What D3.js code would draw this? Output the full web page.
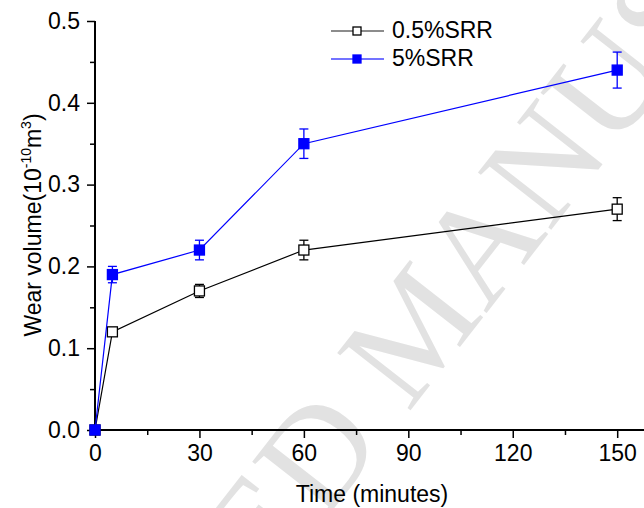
<!DOCTYPE html>
<html>
<head>
<script src="https://d3js.org/d3.v7.min.js"></script>
<style>
  body { margin: 0; background: #fff; }
</style>
</head>
<body>
<div id="chart"></div>
<script>
// data
var times = [0, 5, 30, 60, 150];
var low = [0, 0.12, 0.17, 0.22, 0.27];       // 0.5%SRR
var lowErr = [0, 0.004, 0.008, 0.012, 0.014];
var high = [0, 0.19, 0.22, 0.35, 0.44];      // 5%SRR
var highErr = [0, 0.01, 0.012, 0.018, 0.022];
var seriesNames = ["0.5%SRR", "5%SRR"];
var xTicks = [0, 30, 60, 90, 120, 150];
var yTicks = [0.0, 0.1, 0.2, 0.3, 0.4, 0.5];

var W = 644, H = 508;
var margin = { top: 21, right: 0, bottom: 78, left: 95 };
var fs = 23;
var sans = "Liberation Sans, Arial, sans-serif";

var svg = d3.select("#chart").append("svg")
    .attr("width", W).attr("height", H)
    .style("font-family", sans);

// faint watermark behind everything
svg.append("text")
    .attr("transform", "translate(416,327) rotate(-52)")
    .attr("text-anchor", "middle")
    .attr("dy", "0.33em")
    .style("font-family", "Liberation Serif, Times New Roman, serif")
    .attr("font-size", 142)
    .attr("fill", "#e2e2e2")
    .text("ACCEPTED MANUSCRIPT");

var x = d3.scaleLinear().domain([0, 157.7]).range([margin.left, W - margin.right]);
var y = d3.scaleLinear().domain([0, 0.5]).range([430, margin.top]);

// axes
var xAxis = d3.axisBottom(x).tickValues(xTicks).tickSize(8).tickPadding(7).tickFormat(d3.format("d"));
var gx = svg.append("g").attr("transform", "translate(0,430)").call(xAxis);
gx.select(".domain").attr("d", "M" + x(0) + ",0H" + W).attr("stroke-width", 2);
svg.append("g").attr("transform", "translate(0,430)")
    .call(d3.axisBottom(x).tickValues([15, 45, 75, 105, 135]).tickSize(5).tickFormat(""))
    .select(".domain").remove();

var yAxis = d3.axisLeft(y).tickValues(yTicks).tickSize(8).tickPadding(7).tickFormat(d3.format(".1f"));
var gy = svg.append("g").attr("transform", "translate(" + x(0) + ",0)").call(yAxis);
gy.select(".domain").attr("d", "M0," + y(0.5) + "V" + y(0)).attr("stroke-width", 2);
svg.append("g").attr("transform", "translate(" + x(0) + ",0)")
    .call(d3.axisLeft(y).tickValues([0.05, 0.15, 0.25, 0.35, 0.45]).tickSize(5).tickFormat(""))
    .select(".domain").remove();

svg.selectAll(".tick line").attr("stroke-width", 1.5);
svg.selectAll(".tick text").attr("font-size", fs).attr("fill", "#000")
    .attr("font-family", sans);

// axis titles
svg.append("text")
    .attr("x", 372).attr("y", 502)
    .attr("text-anchor", "middle").attr("font-size", fs)
    .text("Time (minutes)");

var yl = svg.append("text")
    .attr("transform", "translate(41,225) rotate(-90)")
    .attr("text-anchor", "middle").attr("font-size", fs);
yl.append("tspan").text("Wear volume(10");
yl.append("tspan").attr("font-size", 14).attr("dy", -10).text("-10");
yl.append("tspan").attr("dy", 10).text("m");
yl.append("tspan").attr("font-size", 14).attr("dy", -10).text("3");
yl.append("tspan").attr("dy", 10).text(")");

function drawSeries(vals, errs, color, fill) {
    var pts = times.map(function (t, i) { return { t: t, v: vals[i], e: errs[i] }; });
    var line = d3.line().x(function (d) { return x(d.t); }).y(function (d) { return y(d.v); });
    svg.append("path").datum(pts)
        .attr("d", line).attr("fill", "none").attr("stroke", color).attr("stroke-width", 1.2);
    var eb = svg.append("g").attr("stroke", color).attr("stroke-width", 1.3);
    pts.filter(function (d) { return d.e > 0; }).forEach(function (d) {
        var cx = x(d.t);
        eb.append("line").attr("x1", cx).attr("x2", cx).attr("y1", y(d.v + d.e)).attr("y2", y(d.v - d.e));
        eb.append("line").attr("x1", cx - 4.5).attr("x2", cx + 4.5).attr("y1", y(d.v + d.e)).attr("y2", y(d.v + d.e));
        eb.append("line").attr("x1", cx - 4.5).attr("x2", cx + 4.5).attr("y1", y(d.v - d.e)).attr("y2", y(d.v - d.e));
    });
    svg.append("g").selectAll("rect").data(pts).enter().append("rect")
        .attr("x", function (d) { return x(d.t) - 5; })
        .attr("y", function (d) { return y(d.v) - 5; })
        .attr("width", 10).attr("height", 10)
        .attr("fill", fill).attr("stroke", color).attr("stroke-width", 1.3);
}

drawSeries(low, lowErr, "#000", "#fff");
drawSeries(high, highErr, "#0000ff", "#0000ff");

// legend
var legFills = ["#fff", "#0000ff"];
seriesNames.forEach(function (name, i) {
    var ly = 31 + i * 28;
    var g = svg.append("g");
    g.append("line").attr("x1", 331).attr("x2", 384).attr("y1", ly).attr("y2", ly)
        .attr("stroke", i === 0 ? "#666" : "#4444ff").attr("stroke-width", 1.3);
    g.append("rect").attr("x", 353).attr("y", ly - 4).attr("width", 8).attr("height", 8)
        .attr("fill", legFills[i]).attr("stroke", i === 0 ? "#000" : "#0000ff").attr("stroke-width", 1.3);
    g.append("text").attr("x", 392).attr("y", ly + 7).attr("font-size", fs).text(name);
});
</script>
</body>
</html>
